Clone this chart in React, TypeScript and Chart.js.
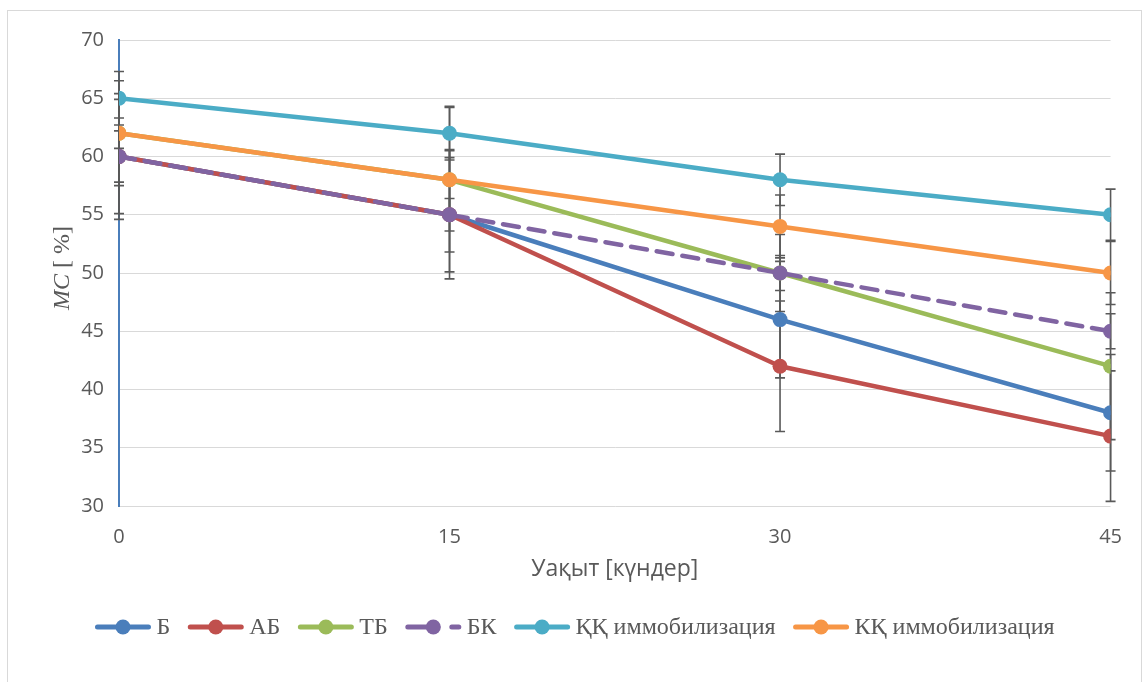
import React, { useEffect, useRef } from "react";
import { Chart, registerables } from "chart.js";

Chart.register(...registerables);

const days = [0, 15, 30, 45];
const xTicks = [0, 15, 30, 45];
const seriesNames = ["Б", "АБ", "ТБ", "БК", "ҚҚ иммобилизация", "КҚ иммобилизация"];
const seriesColors = ["#4a7ebb", "#c0504d", "#9bbb59", "#8064a2", "#4bacc6", "#f79646"];
const b = [60, 55, 46, 38];
const ab = [60, 55, 42, 36];
const tb = [62, 58, 50, 42];
const bk = [60, 55, 50, 45];
const qq = [65, 62, 58, 55];
const kq = [62, 58, 54, 50];
const bErr = [5.4, 5.5, 5, 5];
const abErr = [2.2, 4.9, 5.6, 5.6];
const tbErr = [4.5, 6.2, 3.3, 6.3];
const bkErr = [4.9, 1.4, 1.5, 1.5];
const qqErr = [2.3, 2.3, 2.2, 2.2];
const kqErr = [1.3, 2.6, 2.7, 2.7];
const xTitle = "Уақыт [күндер]";
const yTitleItalic = "MC";
const yTitleRest = " [ %]";

const allValues = [b, ab, tb, bk, qq, kq];
const allErrors = [bErr, abErr, tbErr, bkErr, qqErr, kqErr];

const errorBarPlugin = {
  id: "errorBars",
  beforeDatasetsDraw(chart: any) {
    const { ctx } = chart;
    const xs = chart.scales.x;
    const ys = chart.scales.y;
    ctx.save();
    ctx.strokeStyle = "#595959";
    ctx.lineWidth = 1.6;
    allValues.forEach((vals, si) => {
      vals.forEach((v, i) => {
        const e = allErrors[si][i];
        const px = xs.getPixelForValue(days[i]);
        const top = ys.getPixelForValue(v + e);
        const bot = ys.getPixelForValue(v - e);
        ctx.beginPath();
        ctx.moveTo(px, top);
        ctx.lineTo(px, bot);
        ctx.moveTo(px - 5, top);
        ctx.lineTo(px + 5, top);
        ctx.moveTo(px - 5, bot);
        ctx.lineTo(px + 5, bot);
        ctx.stroke();
      });
    });
    ctx.restore();
  },
};

const textPlugin = {
  id: "texts",
  afterDraw(chart: any) {
    const { ctx, chartArea } = chart;
    ctx.save();
    // X title
    ctx.fillStyle = "#595959";
    ctx.font = '23px "Open Sans"';
    ctx.textAlign = "center";
    ctx.textBaseline = "middle";
    ctx.fillText(xTitle, (chartArea.left + chartArea.right) / 2, chartArea.bottom + 63);
    // Y title
    ctx.save();
    ctx.translate(61, 257);
    ctx.rotate(-Math.PI / 2);
    ctx.textBaseline = "alphabetic";
    ctx.font = 'italic 24px "Liberation Serif"';
    const w1 = ctx.measureText(yTitleItalic).width;
    ctx.font = '24px "Liberation Serif"';
    const w2 = ctx.measureText(yTitleRest).width;
    const x0 = -(w1 + w2) / 2;
    ctx.textAlign = "left";
    ctx.font = 'italic 24px "Liberation Serif"';
    ctx.fillText(yTitleItalic, x0, 0);
    ctx.font = '24px "Liberation Serif"';
    ctx.fillText(yTitleRest, x0 + w1, 0);
    ctx.restore();
    // Legend
    ctx.font = '24px "Liberation Serif"';
    const lineLen = 57;
    const gapText = 5;
    const spacing = 17;
    const widths = seriesNames.map((n) => lineLen + gapText + ctx.measureText(n).width);
    const total = widths.reduce((a, c) => a + c, 0) + spacing * (widths.length - 1);
    let x = chart.width / 2 - total / 2;
    const y = 616;
    seriesNames.forEach((n, i) => {
      const ds = chart.data.datasets[i];
      ctx.save();
      ctx.strokeStyle = seriesColors[i];
      ctx.lineWidth = 5;
      ctx.lineCap = "round";
      if (ds.borderDash && ds.borderDash.length) ctx.setLineDash([30, 14, 10, 14]);
      ctx.beginPath();
      ctx.moveTo(x + 3, y);
      ctx.lineTo(x + lineLen - 3, y);
      ctx.stroke();
      ctx.setLineDash([]);
      ctx.fillStyle = seriesColors[i];
      ctx.beginPath();
      ctx.arc(x + lineLen / 2, y, 7.5, 0, Math.PI * 2);
      ctx.fill();
      ctx.restore();
      ctx.fillStyle = "#595959";
      ctx.textAlign = "left";
      ctx.textBaseline = "middle";
      ctx.fillText(n, x + lineLen + gapText, y + 1);
      x += widths[i] + spacing;
    });
    ctx.restore();
  },
};

export default function App() {
  const ref = useRef<HTMLCanvasElement>(null);
  useEffect(() => {
    if (!ref.current) return;
    const datasets = allValues.map((vals, i) => ({
      label: seriesNames[i],
      data: vals.map((v, j) => ({ x: days[j], y: v })),
      borderColor: seriesColors[i],
      backgroundColor: seriesColors[i],
      pointBackgroundColor: seriesColors[i],
      pointBorderColor: seriesColors[i],
      borderWidth: 4.5,
      pointRadius: 7.5,
      pointBorderWidth: 0,
      borderCapStyle: "round" as const,
      borderJoinStyle: "round" as const,
      borderDash: i === 3 ? [16, 10] : [],
      tension: 0,
      order: 6 - i,
    }));
    const chart = new Chart(ref.current, {
      type: "line",
      data: { datasets },
      options: {
        animation: false,
        responsive: false,
        layout: { padding: { top: 29, right: 30, left: 0, bottom: 0 } },
        plugins: { legend: { display: false }, tooltip: { enabled: false } },
        scales: {
          x: {
            type: "linear",
            min: 0,
            max: 45,
            afterBuildTicks: (s: any) => {
              s.ticks = xTicks.map((v) => ({ value: v }));
            },
            afterFit: (s: any) => {
              s.height = 175;
            },
            grid: { display: false, drawTicks: false },
            border: { display: false },
            ticks: {
              color: "#595959",
              font: { family: "Open Sans", size: 20 },
              padding: 19,
            },
          },
          y: {
            min: 30,
            max: 70,
            afterFit: (s: any) => {
              s.width = 111;
            },
            grid: { color: "#d9d9d9", lineWidth: 1, drawTicks: false },
            border: { display: true, color: "#4a7ebb", width: 2 },
            ticks: {
              stepSize: 5,
              color: "#595959",
              font: { family: "Open Sans", size: 20 },
              padding: 15,
            },
          },
        },
      },
      plugins: [errorBarPlugin, textPlugin],
    });
    return () => chart.destroy();
  }, []);
  return (
    <div
      style={{
        position: "absolute",
        left: 7,
        top: 10,
        width: 1133,
        height: 680,
        border: "1px solid #d9d9d9",
        background: "#fff",
      }}
    >
      <canvas ref={ref} width={1133} height={670} style={{ display: "block" }} />
    </div>
  );
}
